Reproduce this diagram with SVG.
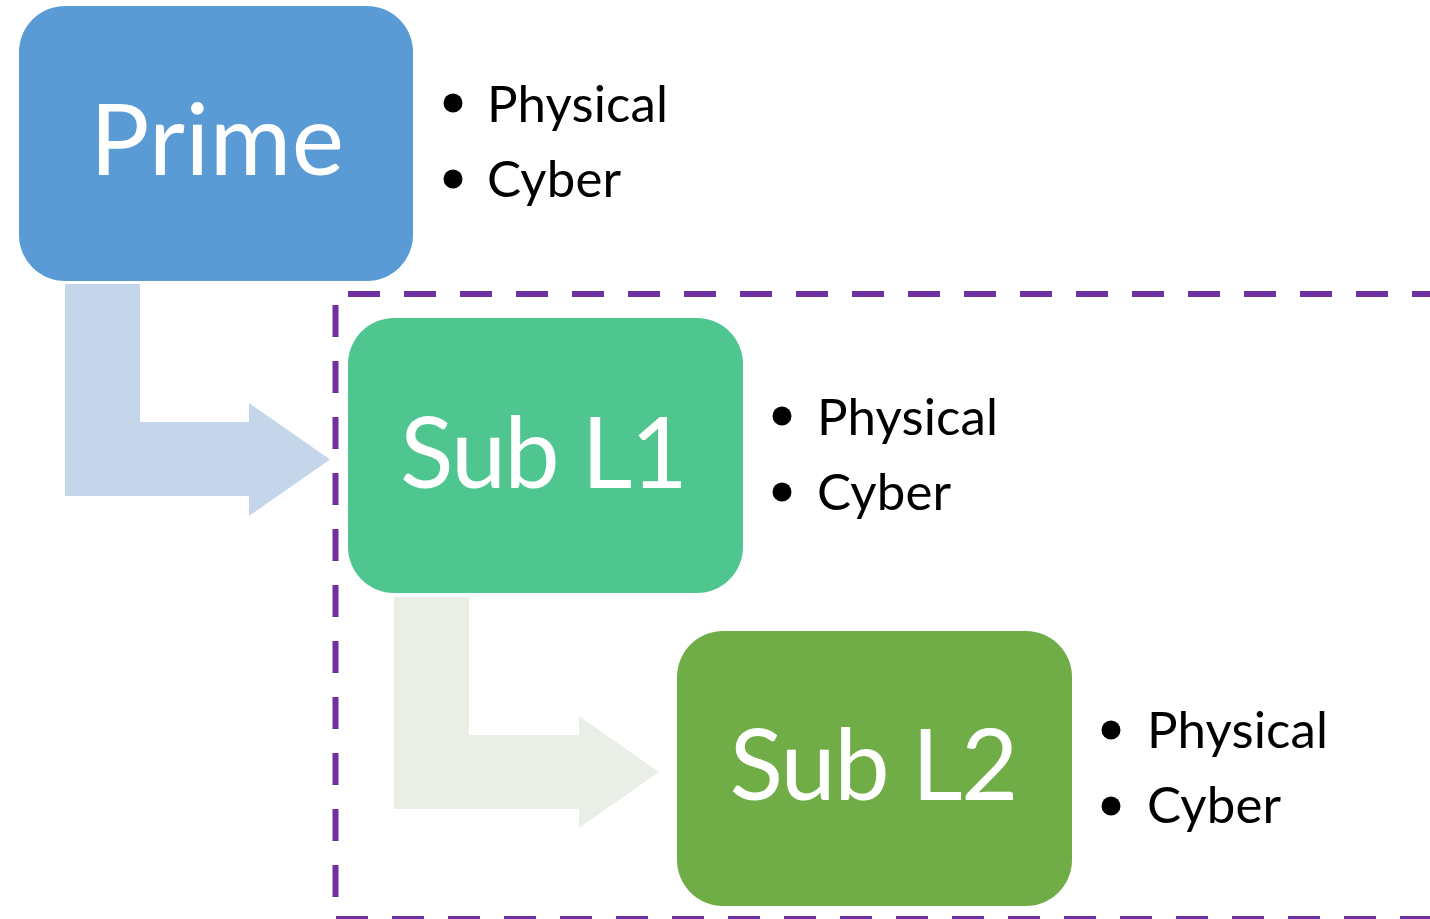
<svg xmlns="http://www.w3.org/2000/svg" width="1430" height="919" viewBox="0 0 1430 919">
  <style>
    .box-label { font-family: Lato, "Liberation Sans", sans-serif; font-size: 99px; fill: #ffffff; text-anchor: middle; }
    .item { font-family: Lato, "Liberation Sans", sans-serif; font-size: 51px; fill: #000000; }
    .dot { fill: #000000; }
    .scope { stroke: #7030A0; stroke-width: 6; fill: none; stroke-dasharray: 32 24; }
  </style>

  <rect width="1430" height="919" fill="#ffffff"/>

  <!-- dashed scope around the sub levels -->
  <g id="scope">
    <line class="scope" x1="335.5" y1="294" x2="1440" y2="294" stroke-dashoffset="43.5"/>
    <line class="scope" x1="335.5" y1="294" x2="335.5" y2="930" stroke-dashoffset="45"/>
    <line class="scope" x1="335.5" y1="919" x2="1440" y2="919" stroke-dashoffset="-0.5"/>
  </g>

  <!-- bent arrows between levels -->
  <g id="connectors">
    <polygon id="arrow-prime-l1" fill="#C5D6EB" points="65,284 140,284 140,422 249,422 249,403 330,459.5 249,516 249,496 65,496"/>
    <polygon id="arrow-l1-l2" fill="#E9EFE7" points="394,597 469,597 469,735 579,735 579,716 659,772 579,828 579,809 394,809"/>
  </g>

  <g id="prime">
    <rect x="19" y="6" width="394" height="275" rx="46" ry="46" fill="#5B9BD5"/>
    <text class="box-label" x="217" y="175" textLength="254" lengthAdjust="spacing">Prime</text>
  </g>
  <g id="prime-items">
    <circle class="dot" cx="453" cy="103" r="9.5"/>
    <text class="item" x="487" y="122" textLength="181" lengthAdjust="spacing">Physical</text>
    <circle class="dot" cx="453" cy="179" r="9.5"/>
    <text class="item" x="487" y="197" textLength="134" lengthAdjust="spacing">Cyber</text>
  </g>

  <g id="sub-l1">
    <rect x="348" y="318" width="395" height="275" rx="46" ry="46" fill="#4FC58F"/>
    <text class="box-label" x="544" y="488" textLength="288" lengthAdjust="spacing">Sub L1</text>
  </g>
  <g id="sub-l1-items">
    <circle class="dot" cx="782" cy="416" r="9.5"/>
    <text class="item" x="817" y="435" textLength="181" lengthAdjust="spacing">Physical</text>
    <circle class="dot" cx="782" cy="492" r="9.5"/>
    <text class="item" x="817" y="510" textLength="134" lengthAdjust="spacing">Cyber</text>
  </g>

  <g id="sub-l2">
    <rect x="677" y="631" width="395" height="275" rx="46" ry="46" fill="#70AD47"/>
    <text class="box-label" x="874" y="800" textLength="289" lengthAdjust="spacing">Sub L2</text>
  </g>
  <g id="sub-l2-items">
    <circle class="dot" cx="1111" cy="730" r="9.5"/>
    <text class="item" x="1147" y="748" textLength="181" lengthAdjust="spacing">Physical</text>
    <circle class="dot" cx="1111" cy="806" r="9.5"/>
    <text class="item" x="1147" y="823" textLength="134" lengthAdjust="spacing">Cyber</text>
  </g>
</svg>
